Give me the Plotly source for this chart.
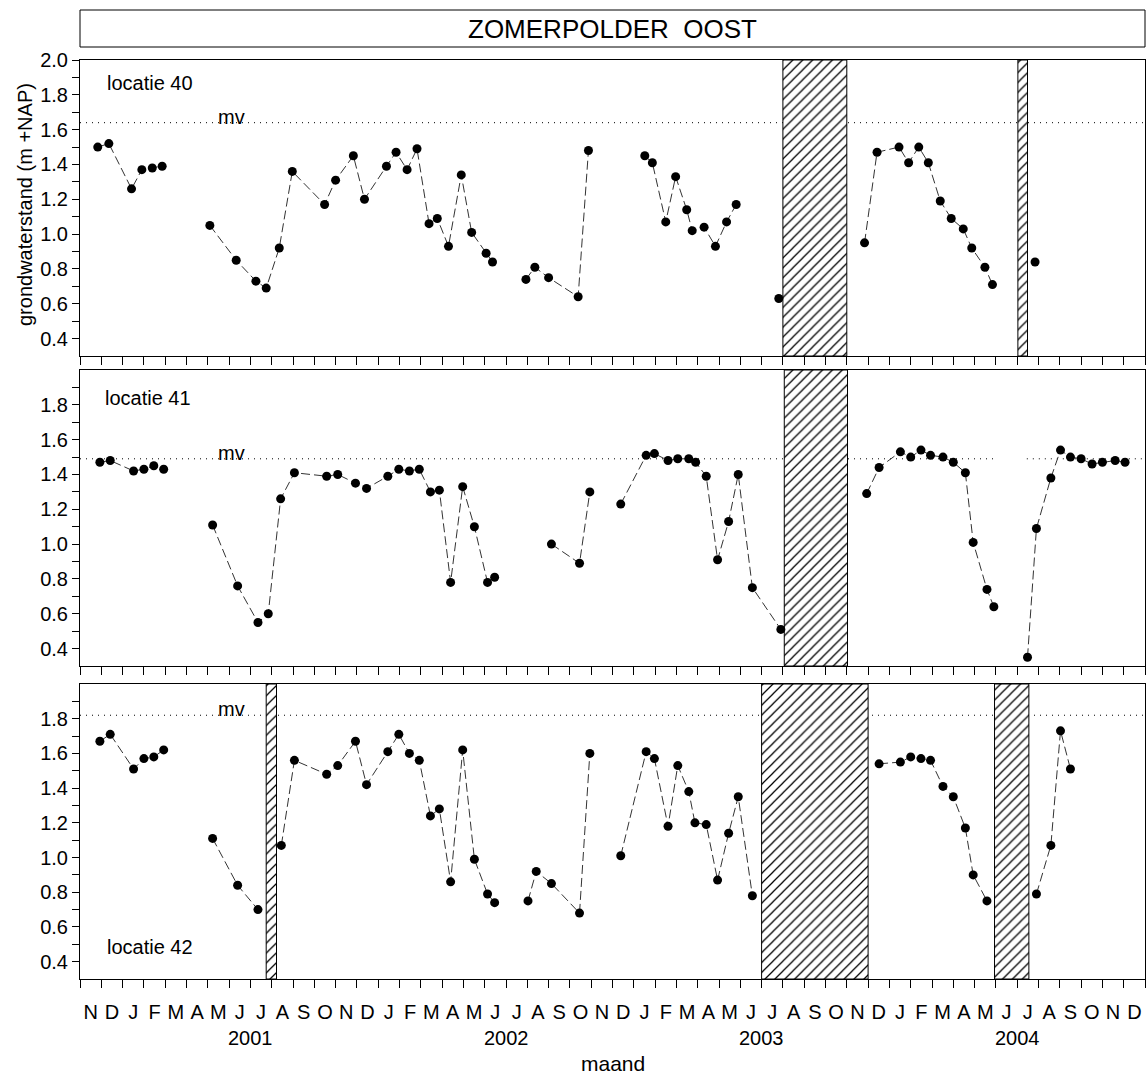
import calendar
import plotly.graph_objects as go

# ---------------- data ----------------
month_letters = ["N", "D"] + ["J", "F", "M", "A", "M", "J", "J", "A", "S", "O", "N", "D"] * 4
year_labels = [2001, 2002, 2003, 2004]
panel_names = ["locatie 40", "locatie 41", "locatie 42"]
mv_levels = [1.64, 1.49, 1.82]

dates40 = ["2000-11-26", "2000-12-12", "2001-01-14", "2001-01-29", "2001-02-12", "2001-02-25", None,
           "2001-05-04", "2001-06-11", "2001-07-09", "2001-07-24", "2001-08-12", "2001-08-31", "2001-10-16",
           "2001-11-01", "2001-11-26", "2001-12-12", "2002-01-13", "2002-01-27", "2002-02-11", "2002-02-24",
           "2002-03-13", "2002-03-25", "2002-04-10", "2002-04-28", "2002-05-13", "2002-06-03", "2002-06-12", None,
           "2002-07-30", "2002-08-12", "2002-09-01", "2002-10-13", "2002-10-28", None,
           "2003-01-17", "2003-01-28", "2003-02-15", "2003-02-28", "2003-03-16", "2003-03-24", "2003-04-10",
           "2003-04-26", "2003-05-12", "2003-05-26", None,
           "2003-07-26", None,
           "2003-11-26", "2003-12-14", "2004-01-15", "2004-01-29", "2004-02-12", "2004-02-25", "2004-03-13",
           "2004-03-29", "2004-04-15", "2004-04-27", "2004-05-16", "2004-05-27", None,
           "2004-07-27"]
level40 = [1.50, 1.52, 1.26, 1.37, 1.38, 1.39, None,
           1.05, 0.85, 0.73, 0.69, 0.92, 1.36, 1.17,
           1.31, 1.45, 1.20, 1.39, 1.47, 1.37, 1.49,
           1.06, 1.09, 0.93, 1.34, 1.01, 0.89, 0.84, None,
           0.74, 0.81, 0.75, 0.64, 1.48, None,
           1.45, 1.41, 1.07, 1.33, 1.14, 1.02, 1.04,
           0.93, 1.07, 1.17, None,
           0.63, None,
           0.95, 1.47, 1.50, 1.41, 1.50, 1.41, 1.19,
           1.09, 1.03, 0.92, 0.81, 0.71, None,
           0.84]

dates41 = ["2000-11-29", "2000-12-14", "2001-01-17", "2001-02-01", "2001-02-14", "2001-02-27", None,
           "2001-05-08", "2001-06-13", "2001-07-12", "2001-07-27", "2001-08-14", "2001-09-03", "2001-10-19",
           "2001-11-04", "2001-11-29", "2001-12-15", "2002-01-15", "2002-01-31", "2002-02-14", "2002-02-27",
           "2002-03-15", "2002-03-28", "2002-04-13", "2002-04-30", "2002-05-17", "2002-06-05", "2002-06-15", None,
           "2002-09-05", "2002-10-15", "2002-10-30", None,
           "2002-12-13", "2003-01-19", "2003-01-31", "2003-02-18", "2003-03-03", "2003-03-19", "2003-03-29",
           "2003-04-13", "2003-04-29", "2003-05-15", "2003-05-29", "2003-06-18", "2003-07-29", None,
           "2003-11-29", "2003-12-17", "2004-01-17", "2004-02-01", "2004-02-15", "2004-02-28", "2004-03-17",
           "2004-04-01", "2004-04-18", "2004-04-29", "2004-05-19", "2004-05-29", None,
           "2004-07-16", "2004-07-29", "2004-08-19", "2004-09-02", "2004-09-16", "2004-10-01", "2004-10-17",
           "2004-11-01", "2004-11-19", "2004-12-03"]
level41 = [1.47, 1.48, 1.42, 1.43, 1.45, 1.43, None,
           1.11, 0.76, 0.55, 0.60, 1.26, 1.41, 1.39,
           1.40, 1.35, 1.32, 1.39, 1.43, 1.42, 1.43,
           1.30, 1.31, 0.78, 1.33, 1.10, 0.78, 0.81, None,
           1.00, 0.89, 1.30, None,
           1.23, 1.51, 1.52, 1.48, 1.49, 1.49, 1.47,
           1.39, 0.91, 1.13, 1.40, 0.75, 0.51, None,
           1.29, 1.44, 1.53, 1.50, 1.54, 1.51, 1.50,
           1.47, 1.41, 1.01, 0.74, 0.64, None,
           0.35, 1.09, 1.38, 1.54, 1.50, 1.49, 1.46,
           1.47, 1.48, 1.47]

dates42 = ["2000-11-29", "2000-12-14", "2001-01-17", "2001-02-01", "2001-02-14", "2001-02-27", None,
           "2001-05-08", "2001-06-13", "2001-07-12", None,
           "2001-08-15", "2001-09-03", "2001-10-19", "2001-11-04", "2001-11-29", "2001-12-15", "2002-01-15",
           "2002-01-31", "2002-02-14", "2002-02-27", "2002-03-15", "2002-03-28", "2002-04-13", "2002-04-30",
           "2002-05-17", "2002-06-05", "2002-06-15", None,
           "2002-08-02", "2002-08-14", "2002-09-05", "2002-10-15", "2002-10-30", None,
           "2002-12-13", "2003-01-19", "2003-01-31", "2003-02-18", "2003-03-03", "2003-03-19", "2003-03-28",
           "2003-04-13", "2003-04-29", "2003-05-15", "2003-05-29", "2003-06-18", None,
           "2003-12-17", "2004-01-17", "2004-02-01", "2004-02-15", "2004-02-28", "2004-03-17", "2004-04-01",
           "2004-04-18", "2004-04-29", "2004-05-19", None,
           "2004-07-29", "2004-08-19", "2004-09-02", "2004-09-16"]
level42 = [1.67, 1.71, 1.51, 1.57, 1.58, 1.62, None,
           1.11, 0.84, 0.70, None,
           1.07, 1.56, 1.48, 1.53, 1.67, 1.42, 1.61,
           1.71, 1.60, 1.56, 1.24, 1.28, 0.86, 1.62,
           0.99, 0.79, 0.74, None,
           0.75, 0.92, 0.85, 0.68, 1.60, None,
           1.01, 1.61, 1.57, 1.18, 1.53, 1.38, 1.20,
           1.19, 0.87, 1.14, 1.35, 0.78, None,
           1.54, 1.55, 1.58, 1.57, 1.56, 1.41, 1.35,
           1.17, 0.90, 0.75, None,
           0.79, 1.07, 1.73, 1.51]

hatch40 = [("2003-08-01", "2003-11-01"), ("2004-07-02", "2004-07-16")]
hatch41 = [("2003-08-03", "2003-11-02")]
hatch42 = [("2001-07-24", "2001-08-08"), ("2003-07-01", "2003-12-01"), ("2004-05-30", "2004-07-18")]

mv_gaps = [[], [("2004-05-28", "2004-07-15")], []]

start_date = "2000-11-01"
end_date = "2005-01-01"
y_min, y_max = 0.3, 2.0


# ---------------- helpers ----------------
def mi(s):
    """date string -> month index (equal-width months, 0 = start of Nov 2000)"""
    if s is None:
        return None
    y, m, d = map(int, s.split("-"))
    dim = calendar.monthrange(y, m)[1]
    return (y - 2000) * 12 + (m - 11) + (d - 1) / dim


x0, x1 = mi(start_date), mi(end_date)

FONT = "Liberation Sans, Arial, Helvetica, sans-serif"
W, H = 1146, 1088
L, R = 80, 1
panel_px = [(60, 356), (370, 666), (684, 979)]
domains = [[1 - b / H, 1 - t / H] for t, b in panel_px]

all_dates = [dates40, dates41, dates42]
all_levels = [level40, level41, level42]
all_hatch = [hatch40, hatch41, hatch42]

fig = go.Figure()

for i in range(3):
    xr = "x" if i == 0 else f"x{i+1}"
    yr = "y" if i == 0 else f"y{i+1}"

    # mv (maaiveld) dotted line
    pts = [x0]
    for a, b in mv_gaps[i]:
        pts += [mi(a), None, mi(b)]
    pts += [x1]
    mvy = [None if p is None else mv_levels[i] for p in pts]
    fig.add_trace(go.Scatter(x=pts, y=mvy, mode="lines", xaxis=xr, yaxis=yr,
                             line=dict(color="black", width=1, dash="1px,5px"),
                             hoverinfo="skip", showlegend=False, connectgaps=False))

    # hatched periods
    for a, b in all_hatch[i]:
        xa, xb = mi(a), mi(b)
        fig.add_trace(go.Scatter(x=[xa, xb, xb, xa, xa], y=[y_min, y_min, y_max, y_max, y_min],
                                 mode="lines", fill="toself", xaxis=xr, yaxis=yr,
                                 fillcolor="white",
                                 fillpattern=dict(shape="/", size=7, solidity=0.18,
                                                  fgcolor="black", bgcolor="white"),
                                 line=dict(color="black", width=1),
                                 hoverinfo="skip", showlegend=False))

    # measurements
    fig.add_trace(go.Scatter(x=[mi(d) for d in all_dates[i]], y=all_levels[i],
                             mode="lines+markers", xaxis=xr, yaxis=yr, connectgaps=False,
                             line=dict(color="#333333", width=1, dash="9px,4px"),
                             marker=dict(color="black", size=9),
                             showlegend=False, name=panel_names[i]))

# invisible carrier so the month-letter axis gets drawn
fig.add_trace(go.Scatter(x=[x0, x1], y=[y_min, y_min], mode="lines", xaxis="x4", yaxis="y3",
                         line=dict(width=0, color="rgba(0,0,0,0)"), hoverinfo="skip",
                         showlegend=False))

# ---------------- axes ----------------
major_all = [0.4, 0.6, 0.8, 1.0, 1.2, 1.4, 1.6, 1.8, 2.0]
minor_all = [0.5, 0.7, 0.9, 1.1, 1.3, 1.5, 1.7, 1.9]
layout_axes = {}
for i in range(3):
    xk = "xaxis" if i == 0 else f"xaxis{i+1}"
    yk = "yaxis" if i == 0 else f"yaxis{i+1}"
    yr = "y" if i == 0 else f"y{i+1}"
    xr = "x" if i == 0 else f"x{i+1}"
    layout_axes[xk] = dict(domain=[0, 1], anchor=yr, range=[x0, x1], tickmode="array",
                           tickvals=list(range(int(x0), int(x1) + 1)), ticks="outside", ticklen=8,
                           tickwidth=1, tickcolor="black", showticklabels=False, showline=True,
                           mirror=True, linecolor="black", linewidth=1, showgrid=False, zeroline=False,
                           automargin=False, fixedrange=True)
    majors = major_all if i == 0 else major_all[:-1]
    layout_axes[yk] = dict(domain=domains[i], anchor=xr, range=[y_min, y_max], tickmode="array",
                           tickvals=majors, ticktext=[f"{v:.1f}" for v in majors],
                           ticks="outside", ticklen=7, tickwidth=1, tickcolor="black",
                           minor=dict(tickmode="array", tickvals=minor_all, ticks="outside",
                                      ticklen=7, tickwidth=1, tickcolor="black"),
                           showline=True, mirror=True, linecolor="black", linewidth=1,
                           showgrid=False, zeroline=False, automargin=False, fixedrange=True,
                           tickfont=dict(size=20, color="black", family=FONT))

# month letter axis (labels centred in each month)
layout_axes["xaxis4"] = dict(overlaying="x3", anchor="y3", side="bottom", range=[x0, x1],
                             tickmode="array",
                             tickvals=[k + 0.5 for k in range(len(month_letters))],
                             ticktext=month_letters, ticks="outside", ticklen=8,
                             tickcolor="rgba(0,0,0,0)", ticklabelstandoff=7,
                             showline=False, showgrid=False, zeroline=False, automargin=False,
                             fixedrange=True, tickfont=dict(size=20, color="black", family=FONT))

fig.update_layout(**layout_axes)

# ---------------- annotations ----------------
ann = []
fig.add_shape(type="rect", xref="paper", yref="paper", x0=0, x1=1,
              y0=1 - 47 / H, y1=1 - 10 / H, line=dict(color="black", width=1), fillcolor="white")
ann.append(dict(text="ZOMERPOLDER\u00a0\u00a0OOST", xref="paper", yref="paper", x=0.5,
                y=1 - 29 / H, showarrow=False, font=dict(size=26, family=FONT, color="black"),
                xanchor="center", yanchor="middle"))
ann.append(dict(text="grondwaterstand (m +NAP)", xref="paper", yref="paper",
                x=(25 - L) / (W - L - R), y=1 - 205 / H, textangle=-90, showarrow=False,
                font=dict(size=20, family=FONT, color="black"), xanchor="center", yanchor="middle"))
ann.append(dict(text="maand", xref="paper", yref="paper", x=0.5, y=1 - 1063 / H, showarrow=False,
                font=dict(size=21, family=FONT, color="black"), xanchor="center", yanchor="middle"))
for yv in year_labels:
    ann.append(dict(text=str(yv), xref="x3", yref="paper", x=mi(f"{yv}-07-01"), y=1 - 1038 / H,
                    showarrow=False, font=dict(size=20, family=FONT, color="black"),
                    xanchor="center", yanchor="middle"))
label_pos = [(0.0235, 0.922), (0.0216, 0.905), (0.0235, 0.108)]
for i in range(3):
    xr = "x" if i == 0 else f"x{i+1}"
    yr = "y" if i == 0 else f"y{i+1}"
    ann.append(dict(text=panel_names[i], xref=f"{xr} domain", yref=f"{yr} domain",
                    x=label_pos[i][0], y=label_pos[i][1], showarrow=False, xanchor="left",
                    yanchor="middle", font=dict(size=20, family=FONT, color="black")))
    ann.append(dict(text="mv", xref=f"{xr} domain", yref=yr, x=0.1418, y=mv_levels[i],
                    showarrow=False, xanchor="center", yanchor="bottom", yshift=-7,
                    font=dict(size=20, family=FONT, color="black")))

fig.update_layout(annotations=ann, width=W, height=H,
                  margin=dict(l=L, r=R, t=0, b=0, pad=0),
                  paper_bgcolor="white", plot_bgcolor="white", template="none",
                  showlegend=False, font=dict(family=FONT, size=20, color="black"))

fig.write_html("out.html", config={"displayModeBar": False},
               post_script="document.body.style.margin='0px';")
